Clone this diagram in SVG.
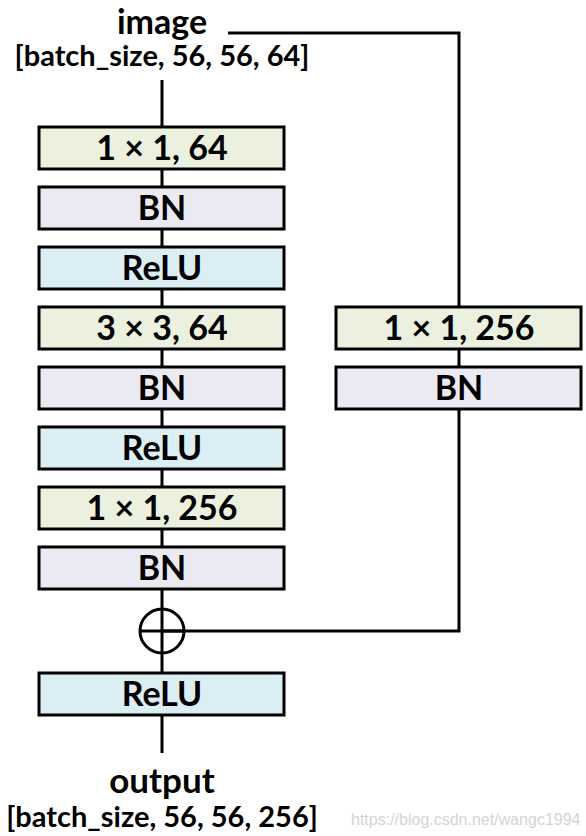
<svg xmlns="http://www.w3.org/2000/svg" width="586" height="836" viewBox="0 0 586 836">
<style>
.box{stroke:#000;stroke-width:3}
.conv{fill:#ebf1de}
.bn{fill:#ebe9f2}
.relu{fill:#dbeef4}
.lbl{font-family:Lato,"Open Sans",sans-serif;font-weight:bold;font-size:34px;text-anchor:middle;fill:#000}
.io{font-family:Lato,"Open Sans",sans-serif;font-weight:bold;text-anchor:middle;fill:#000}
.ln{stroke:#000;stroke-width:3;fill:none}
</style>
<rect width="586" height="836" fill="#fff"/>
<g id="connectors">
<line class="ln" x1="162" y1="80" x2="162" y2="126"/>
<line class="ln" x1="162" y1="170" x2="162" y2="186"/>
<line class="ln" x1="162" y1="230" x2="162" y2="246"/>
<line class="ln" x1="162" y1="290" x2="162" y2="306"/>
<line class="ln" x1="162" y1="350" x2="162" y2="366"/>
<line class="ln" x1="162" y1="410" x2="162" y2="426"/>
<line class="ln" x1="162" y1="470" x2="162" y2="486"/>
<line class="ln" x1="162" y1="530" x2="162" y2="546"/>
<line class="ln" x1="162" y1="590" x2="162" y2="672"/>
<line class="ln" x1="162" y1="716" x2="162" y2="753"/>
<polyline class="ln" points="228,33 459,33 459,306"/>
<line class="ln" x1="459" y1="350" x2="459" y2="366"/>
<polyline class="ln" points="459,410 459,631 162,631"/>
</g>
<g id="input-label">
<text class="io" x="162" y="34" font-size="34">image</text>
<text class="io" x="162" y="66" font-size="29">[batch_size, 56, 56, 64]</text>
</g>
<g id="conv1"><rect class="box conv" x="39" y="127" width="245" height="42"/><text class="lbl" x="162" y="160">1 × 1, 64</text></g>
<g id="bn1"><rect class="box bn" x="39" y="187" width="245" height="42"/><text class="lbl" x="162" y="220">BN</text></g>
<g id="relu1"><rect class="box relu" x="39" y="247" width="245" height="42"/><text class="lbl" x="162" y="280">ReLU</text></g>
<g id="conv2"><rect class="box conv" x="39" y="307" width="245" height="42"/><text class="lbl" x="162" y="340">3 × 3, 64</text></g>
<g id="bn2"><rect class="box bn" x="39" y="367" width="245" height="42"/><text class="lbl" x="162" y="400">BN</text></g>
<g id="relu2"><rect class="box relu" x="39" y="427" width="245" height="42"/><text class="lbl" x="162" y="460">ReLU</text></g>
<g id="conv3"><rect class="box conv" x="39" y="487" width="245" height="42"/><text class="lbl" x="162" y="520">1 × 1, 256</text></g>
<g id="bn3"><rect class="box bn" x="39" y="547" width="245" height="42"/><text class="lbl" x="162" y="580">BN</text></g>
<g id="shortcut-conv"><rect class="box conv" x="336" y="307" width="245" height="42"/><text class="lbl" x="459" y="340">1 × 1, 256</text></g>
<g id="shortcut-bn"><rect class="box bn" x="336" y="367" width="245" height="42"/><text class="lbl" x="459" y="400">BN</text></g>
<g id="add">
<circle cx="162" cy="631" r="22" fill="none" stroke="#000" stroke-width="3"/>
<line class="ln" x1="140" y1="631" x2="184" y2="631"/>
</g>
<g id="relu-out"><rect class="box relu" x="39" y="673" width="245" height="42"/><text class="lbl" x="162" y="706">ReLU</text></g>
<g id="output-label">
<text class="io" x="162" y="793" font-size="35">output</text>
<text class="io" x="162" y="827" font-size="29">[batch_size, 56, 56, 256]</text>
</g>
<text x="351" y="825" font-family="Liberation Sans,Arial,sans-serif" font-size="16" fill="#d4d4d4">https://blog.csdn.net/wangc1994</text>
</svg>
